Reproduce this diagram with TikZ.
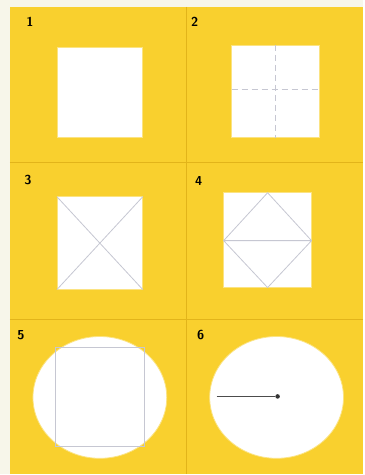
\documentclass[tikz,border=0pt]{standalone}
\usepackage{xcolor}
\usepackage{tikz}
\definecolor{paper}{HTML}{F7F6EA}
\definecolor{yell}{HTML}{F9D02E}
\definecolor{rule}{HTML}{E2B41A}
\definecolor{fold}{HTML}{C6C7D2}

\begin{document}
\begin{tikzpicture}[x=1pt,y=-1pt,
  sheet/.style={fill=white,draw=yell!60!white,line width=0.8pt},
  crease/.style={fold,line width=0.8pt},
  num/.style={font=\sffamily\bfseries\fontsize{13}{13}\selectfont,inner sep=0pt}]
\fill[paper](0,0)rectangle(364,475);
\fill[yell](10,7)rectangle(364,475);
\draw[rule,line width=1.4pt](187,7)--(187,475) (10,163)--(364,163) (10,320)--(364,320);
\foreach\n/\x/\y in{1/30/22,2/195/22,3/28/180,4/199/181,5/21/336,6/201/335}{
    \node[num]at(\x,\y)(n\n){\n};
}
% 1
\draw[sheet](57,47)rectangle(143,138);
% 2
\draw[sheet](232,45)rectangle(320,138);
\draw[crease,dashed,dash pattern=on 6pt off 4pt](276,45)--(276,138) (232,90)--(320,90);
% 3
\draw[sheet](57,197)rectangle(143,290);
\draw[crease](57,197)--(143,290) (143,197)--(57,290);
% 4
\draw[sheet](224,193)rectangle(312,288);
\draw[crease](268,193)--(312,241)--(268,288)--(224,241)--cycle (224,241)--(312,241);
% 5
\draw[sheet](100,398)ellipse[x radius=67,y radius=61];
\draw[crease](55,348)rectangle(145,447);
% 6
\draw[sheet](277,398)ellipse[x radius=67,y radius=61];
\node[circle,fill=black!80,inner sep=1.6pt]at(278,397)(c){};
\coordinate(r)at(217,397);
\draw[black!70,line width=0.6pt](r)--(c);
\end{tikzpicture}
\end{document}
